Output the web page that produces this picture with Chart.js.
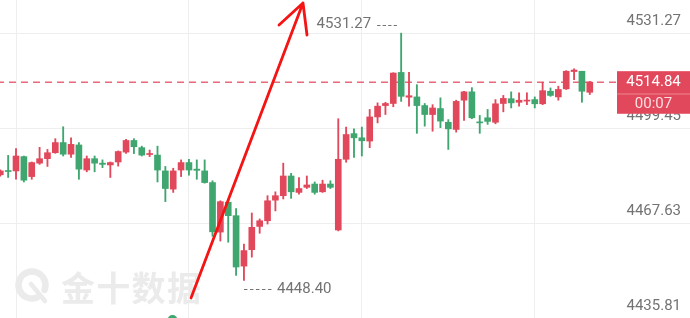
<!DOCTYPE html>
<html>
<head>
<meta charset="utf-8">
<script src="https://cdn.jsdelivr.net/npm/chart.js@4.4.1/dist/chart.umd.min.js"></script>
<style>
html,body{margin:0;padding:0;background:#ffffff;overflow:hidden;}
canvas{display:block;}
</style>
</head>
<body>
<canvas id="chart" width="690" height="318"></canvas>
<script>
// ---- data ----
const opens  = [4483.8,4485.1,4485.1,4489.9,4483.2,4487.7,4489.2,4491.2,4494.6,4490.7,
                4493.8,4485.4,4489.2,4487.7,4487.1,4488.1,4491.4,4495.3,4492.9,4490.6,
                4490.4,4485.1,4479.0,4485.4,4487.9,4485.7,4485.1,4481.2,4464.6,4474.6,
                4470.1,4453.2,4458.7,4466.5,4468.4,4475.3,4476.8,4483.4,4477.9,4479.6,
                4480.7,4478.1,4480.7,4465.3,4489.0,4497.6,4496.2,4495.1,4503.2,4507.0,
                4507.7,4518.1,4509.8,4509.9,4507.0,4504.0,4506.0,4501.4,4499.0,4508.8,
                4511.6,4501.5,4502.9,4501.4,4507.7,4509.3,4508.1,4508.5,4509.0,4507.6,
                4511.8,4509.9,4512.6,4518.4,4518.5,4511.45];
const highs  = [4485.5,4490.3,4492.6,4490.1,4488.1,4493.0,4492.3,4495.9,4499.9,4496.2,
                4494.6,4490.1,4490.1,4488.8,4488.1,4491.8,4495.7,4495.9,4493.4,4492.1,
                4493.4,4486.6,4486.0,4488.8,4489.0,4488.8,4488.8,4481.8,4475.1,4475.1,
                4472.5,4460.6,4471.0,4469.0,4476.8,4478.1,4487.7,4484.3,4482.9,4483.4,
                4481.4,4482.0,4481.8,4502.6,4499.8,4499.2,4499.8,4505.7,4507.9,4508.1,
                4518.0,4531.27,4518.1,4514.0,4507.7,4507.3,4509.6,4502.3,4508.8,4511.8,
                4513.0,4503.7,4505.7,4509.0,4510.4,4511.6,4511.3,4511.3,4509.9,4514.8,
                4512.9,4513.5,4518.7,4519.3,4518.5,4515.1];
const lows   = [4483.3,4482.9,4482.3,4481.4,4482.3,4487.3,4486.6,4491.0,4490.1,4489.6,
                4482.3,4484.8,4484.8,4486.2,4482.9,4486.7,4491.0,4490.9,4490.1,4489.9,
                4481.4,4474.8,4477.9,4483.2,4483.7,4482.3,4481.0,4463.2,4461.6,4461.2,
                4450.1,4448.40,4456.2,4464.2,4467.3,4471.7,4475.7,4475.9,4477.3,4479.2,
                4477.3,4477.9,4479.2,4465.0,4488.0,4489.6,4490.1,4492.9,4501.2,4504.0,
                4506.6,4508.4,4506.8,4497.7,4500.1,4498.4,4499.6,4492.3,4498.1,4502.0,
                4502.6,4497.7,4500.7,4500.9,4504.9,4506.2,4506.8,4507.3,4506.2,4507.3,
                4510.1,4508.8,4512.4,4515.7,4508.1,4510.7];
const closes = [4485.1,4484.9,4490.1,4482.0,4487.9,4489.2,4491.2,4494.6,4490.7,4494.0,
                4485.7,4489.2,4487.7,4487.3,4487.9,4491.6,4495.3,4493.2,4490.4,4490.9,
                4485.4,4479.2,4485.1,4487.9,4485.4,4485.3,4481.2,4464.7,4474.8,4470.1,
                4452.9,4458.4,4466.2,4468.4,4475.1,4476.8,4483.4,4478.1,4479.2,4480.4,
                4477.9,4480.7,4479.6,4489.0,4497.3,4496.2,4495.2,4503.2,4506.8,4507.7,
                4517.9,4510.1,4510.3,4507.0,4504.0,4506.2,4501.8,4499.2,4508.4,4511.6,
                4502.9,4501.2,4501.7,4507.6,4509.4,4507.9,4508.8,4508.8,4507.6,4512.0,
                4510.4,4512.4,4518.5,4518.9,4511.8,4514.84];
const priceTicks  = [4531.27, 4499.45, 4467.63, 4435.81];
const timeGridIdx = [13, 35, 57];
const countdown   = '00:07';
const watermark   = ['金', '十', '数', '据'];

// ---- styles ----
const FONT  = 'Roboto, "Noto Sans", sans-serif';
const RED   = '#e2485b';
const GREEN = '#3ea66e';
const GRID  = '#eeeeee';
const LABEL = '#737373';

const idx = closes.map((_, i) => i);
const candleColor = c => (closes[c.dataIndex] >= opens[c.dataIndex] ? RED : GREEN);
const bodyData = idx.map(i => ({ x: i, y: [opens[i], closes[i]] }));
const wickData = idx.map(i => ({ x: i, y: [lows[i], highs[i]] }));
const lastClose = closes[closes.length - 1];

const overlay = {
  id: 'overlay',
  beforeDatasetsDraw(chart) {
    const c = chart.ctx;
    c.save();
    c.strokeStyle = '#ebebeb';
    c.fillStyle = '#ebebeb';
    c.lineCap = 'round';
    c.lineWidth = 6.5;
    c.beginPath();
    c.arc(32, 285, 13.5, 0.38 * Math.PI, 2.12 * Math.PI);
    c.stroke();
    c.lineWidth = 4.5;
    c.beginPath();
    c.moveTo(31, 284);
    c.lineTo(45, 301);
    c.stroke();
    c.font = 'bold 34px "Noto Sans CJK SC", sans-serif';
    c.textBaseline = 'middle';
    c.textAlign = 'left';
    watermark.forEach((ch, k) => c.fillText(ch, 61 + k * 35.3, 288));
    c.restore();
  },
  afterDatasetsDraw(chart) {
    const c = chart.ctx, xs = chart.scales.x, ys = chart.scales.y;
    let hi = 0, lo = 0;
    highs.forEach((v, i) => { if (v > highs[hi]) hi = i; });
    lows.forEach((v, i) => { if (v < lows[lo]) lo = i; });
    const hx = xs.getPixelForValue(hi), hy = ys.getPixelForValue(highs[hi]);
    const lx = xs.getPixelForValue(lo), ly = ys.getPixelForValue(lows[lo]);
    c.save();
    c.strokeStyle = LABEL; c.fillStyle = LABEL; c.lineWidth = 1;
    c.font = '15px ' + FONT;
    c.textBaseline = 'middle';
    // high
    c.setLineDash([3.3, 2.2]);
    c.beginPath(); c.moveTo(hx - 24, Math.round(hy - 8) + 0.5); c.lineTo(hx - 3, Math.round(hy - 8) + 0.5); c.stroke();
    c.textAlign = 'right';
    c.fillText(highs[hi].toFixed(2), hx - 30, hy - 9);
    // low
    c.setLineDash([3.5, 2.5]);
    c.beginPath(); c.moveTo(lx, Math.round(ly + 9) + 0.5); c.lineTo(lx + 30, Math.round(ly + 9) + 0.5); c.stroke();
    c.textAlign = 'left';
    c.fillText(lows[lo].toFixed(2), lx + 33, ly + 8.5);
    c.setLineDash([]);
    // hand-drawn red arrow
    c.strokeStyle = '#f41414';
    c.lineWidth = 2.8;
    c.lineCap = 'round';
    c.lineJoin = 'round';
    c.beginPath();
    c.moveTo(191, 298); c.lineTo(303, 3);
    c.moveTo(279, 25); c.lineTo(303, 3); c.lineTo(307, 35);
    c.stroke();
    // green marker at bottom
    c.fillStyle = GREEN;
    c.beginPath(); c.arc(172.5, 320, 5, 0, Math.PI * 2); c.fill();
    c.restore();
  },
  afterDraw(chart) {
    const c = chart.ctx, ys = chart.scales.y;
    const y = ys.getPixelForValue(lastClose);
    const x0 = 617, w = 73, top = y - 11, h = 42.6;
    c.save();
    c.fillStyle = RED;
    c.fillRect(x0, top, w, h);
    c.fillStyle = 'rgba(255,255,255,0.35)';
    c.fillRect(x0, top + 22.3, w, 1);
    c.font = '15px ' + FONT;
    c.textAlign = 'center';
    c.textBaseline = 'middle';
    c.fillStyle = '#ffffff';
    c.fillText(lastClose.toFixed(2), x0 + w / 2, top + 11.5);
    c.fillStyle = 'rgba(255,255,255,0.82)';
    c.fillText(countdown, x0 + w / 2, top + 33);
    c.restore();
  }
};

new Chart(document.getElementById('chart'), {
  type: 'bar',
  data: {
    datasets: [
      { label: 'body', data: bodyData, backgroundColor: candleColor, barThickness: 6,
        grouped: false, minBarLength: 1, borderWidth: 0 },
      { label: 'wick', data: wickData, backgroundColor: candleColor, barThickness: 1.2,
        grouped: false, borderWidth: 0 },
      { type: 'line', label: 'last', data: [{ x: -5, y: lastClose }, { x: 100, y: lastClose }],
        borderColor: '#e8697a', borderWidth: 1.6, borderDash: [7, 5], pointRadius: 0, fill: false }
    ]
  },
  options: {
    responsive: false,
    animation: false,
    layout: { padding: 0 },
    plugins: { legend: { display: false }, tooltip: { enabled: false } },
    scales: {
      x: {
        type: 'linear', offset: false, min: -0.038, max: 87.75,
        grid: { color: GRID, drawTicks: false },
        border: { display: false },
        ticks: { display: false },
        afterBuildTicks: s => { s.ticks = timeGridIdx.map(v => ({ value: v })); }
      },
      y: {
        type: 'linear', position: 'right', min: 4435.81, max: 4542.38, bounds: 'data',
        grid: { color: GRID, drawTicks: false },
        border: { display: false },
        ticks: { mirror: true, padding: -9, labelOffset: -11.5, color: LABEL,
                 font: { family: FONT, size: 15 }, callback: v => Number(v).toFixed(2) },
        afterBuildTicks: s => { s.ticks = priceTicks.map(v => ({ value: v })); },
        afterFit: s => { s.width = 0; s.paddingTop = 0; s.paddingBottom = 0; }
      }
    }
  },
  plugins: [overlay]
});
</script>
</body>
</html>
